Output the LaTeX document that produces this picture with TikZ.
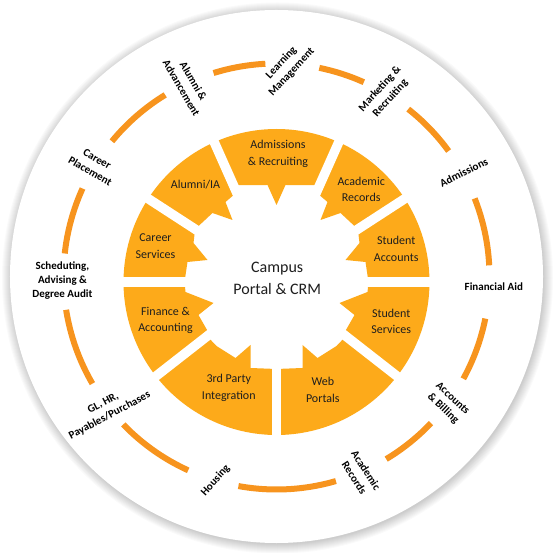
\documentclass[tikz,border=0pt]{standalone}
\usepackage{fontspec}
\setmainfont{Carlito}
\definecolor{wheel}{RGB}{253,170,26}
\definecolor{ring}{RGB}{247,148,30}
\definecolor{txt}{RGB}{30,30,30}
\begin{document}
\begin{tikzpicture}[x=1pt,y=1pt,
  seglab/.style={font=\fontsize{12}{16.5}\selectfont, text=txt, align=center, inner sep=0pt},
  ringlab/.style={font=\bfseries\fontsize{11}{14}\selectfont, text=black, align=center, inner sep=0pt},
  arcseg/.style={draw=ring, line width=6pt},
  gapline/.style={draw=white, line width=9.5pt},
  segfill/.style={fill=wheel}]
\useasboundingbox (-276.5,-276.5) rectangle (276.5,276.5);
\fill[white] (-276.5,-276.5) rectangle (276.5,276.5);
% soft shadow and white disc
\foreach \i in {0,...,9} \fill[black,opacity=0.018] (1,-1.5) circle ({266.5+1.0*\i});
\fill[white] (0,0) circle (266.5);
% outer dashed ring
\foreach \a/\b in {107.2/93, 78.4/65.8, 51.8/36.1, 21.5/3, -11.4/-28.7, -43.5/-59, -73.8/-100.3, -114.5/-136, -149.8/-171, 173.8/155.6, 140.6/121.5}
  \draw[arcseg] (\a:213) arc[start angle=\a, end angle=\b, radius=213];
% inner wheel
\begin{scope}[shift={(0,-5.5)}]
  \fill[segfill] (0:153) arc[start angle=0, end angle=33, radius=153] -- (33:97) -- (83,39) -- (69,22) -- (89,20) -- (0:92) -- cycle;
  \fill[segfill] (33:153) arc[start angle=33, end angle=66, radius=153] -- (66:98) -- (51,80) -- (44,62) -- (64,69) -- (33:97) -- cycle;
  \fill[segfill] (66:153) arc[start angle=66, end angle=114, radius=153] -- (114:106) -- (-9,97) -- (0,77) -- (9,97) -- (66:106) -- cycle;
  \fill[segfill] (114:153) arc[start angle=114, end angle=147, radius=153] -- (147:97) -- (-64,69) -- (-44,62) -- (-51,80) -- (114:98) -- cycle;
  \fill[segfill] (147:153) arc[start angle=147, end angle=180, radius=153] -- (180:92) -- (-89,20) -- (-69,22) -- (-83,39) -- (147:97) -- cycle;
  \fill[segfill] (180:153) arc[start angle=180, end angle=218, radius=153] -- (218:85) -- (-78,-33) -- (-63,-21) -- (-91,-10) -- (180:92) -- cycle;
  \fill[segfill] (218:153) arc[start angle=218, end angle=270, radius=153] -- (270:87) -- (-26,-86) -- (-26,-63) -- (-41,-76) -- (-60,-64) -- (218:88) -- cycle;
  \fill[segfill] (270:153) arc[start angle=270, end angle=322, radius=153] -- (322:88) -- (60,-64) -- (41,-76) -- (26,-63) -- (26,-86) -- (270:87) -- cycle;
  \fill[segfill] (322:153) arc[start angle=322, end angle=360, radius=153] -- (360:92) -- (91,-10) -- (63,-21) -- (78,-33) -- (322:85) -- cycle;
  \foreach \g in {0,33,66,114,147,180,218,270,322}
    \draw[gapline] (\g:60) -- (\g:160);
\end{scope}
% segment labels
\node[seglab] (adm) at (1.5,122.5) {Admissions\\\& Recruiting};
\node[seglab] (alu) at (-81,92) {Alumni/IA};
\node[seglab] (aca) at (84.7,87) {Academic\\Records};
\node[seglab] (car) at (-121,30.3) {Career\\Services};
\node[seglab] (sac) at (119.7,27.7) {Student\\Accounts};
\node[seglab] (fin) at (-111,-44) {Finance \&\\Accounting};
\node[seglab] (sse) at (114.7,-44.7) {Student\\Services};
\node[seglab] (thp) at (-47.7,-111.3) {3rd Party\\Integration};
\node[seglab] (web) at (46.3,-113.3) {Web\\Portals};
\node[font=\fontsize{16}{22}\selectfont, text=txt, align=center, inner sep=0pt] (ctr) at (0.7,-2.3) {Campus\\Portal \& CRM};
% ring labels
\node[ringlab, rotate=47] (lm) at (10,209) {Learning\\Management};
\node[ringlab, rotate=48] (mr) at (108.7,183) {Marketing \&\\Recruiting};
\node[ringlab, rotate=26] (ad) at (187.3,104.3) {Admissions};
\node[ringlab] (fa) at (217.3,-10) {Financial Aid};
\node[ringlab, rotate=-43] (ab) at (171.2,-127.3) {Accounts\\\& Billing};
\node[ringlab, rotate=-57] (ar) at (83.7,-197.5) {Academic\\Records};
\node[ringlab, rotate=48] (ho) at (-61,-204) {Housing};
\node[ringlab, rotate=28] (gl) at (-170,-133) {GL, HR,\\Payables/Purchases};
\node[ringlab] (sc) at (-214,-4) {Scheduting,\\Advising \&\\Degree Audit};
\node[ringlab, rotate=-30] (cp) at (-182.8,111.4) {Career\\Placement};
\node[ringlab, rotate=-60] (aa) at (-89,192) {Alumni \&\\Advancement};
\end{tikzpicture}
\end{document}
